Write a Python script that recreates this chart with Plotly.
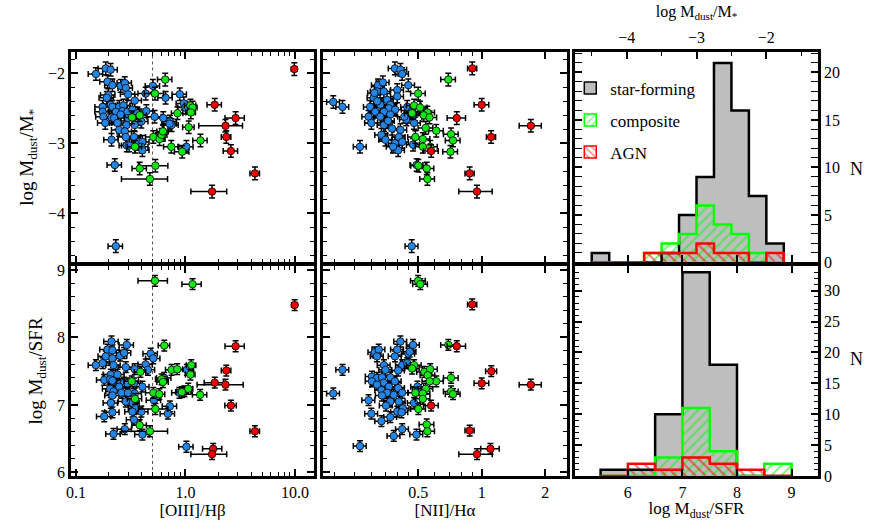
import plotly.graph_objects as go

# ---------------- data ----------------
# star-forming galaxies, [OIII]/Hb vs log Mdust/M*
sf_o3_a = [0.152, 0.187, 0.207, 0.194, 0.215, 0.256, 0.279, 0.285, 0.299, 0.344,
           0.433, 0.504, 0.658, 0.887, 0.197, 0.191, 0.175, 0.208, 0.215, 0.248,
           0.271, 0.231, 0.266, 0.295, 0.328, 0.175, 0.178, 0.211, 0.223, 0.256,
           0.299, 0.364, 0.439, 0.522, 0.627, 0.720, 0.746, 0.185, 0.239, 0.289,
           0.344, 0.395, 0.248, 0.279, 0.285, 0.339, 0.376, 0.404, 0.291, 0.306,
           0.395, 0.404, 0.211, 1.02, 0.966, 1.00, 0.226, 0.231, 0.716]
sf_mstar_a = [-2.01, -1.93, -1.95, -2.12, -2.17, -2.18, -2.14, -2.21, -2.30, -2.39,
              -2.29, -2.18, -2.35, -2.30, -2.31, -2.35, -2.48, -2.45, -2.48, -2.48,
              -2.46, -2.55, -2.54, -2.55, -2.52, -2.55, -2.62, -2.63, -2.64, -2.59,
              -2.64, -2.57, -2.54, -2.62, -2.64, -2.69, -2.74, -2.71, -2.71, -2.74,
              -2.74, -2.69, -2.81, -2.83, -2.91, -2.91, -2.98, -2.98, -3.03, -3.03,
              -3.05, -3.10, -2.95, -3.05, -2.43, -2.49, -3.31, -4.47, -2.72]
# composite
cp_o3_a = [0.653, 0.526, 0.325, 0.382, 0.845, 1.11, 1.16, 1.12, 1.07, 1.37,
           0.508, 0.58, 0.605, 0.622, 0.346, 0.742, 0.933, 0.382, 0.531, 0.473]
cp_mstar_a = [-2.09, -2.29, -2.63, -2.60, -2.57, -2.46, -2.49, -2.56, -2.77, -2.96,
              -2.91, -2.94, -2.88, -2.83, -3.05, -3.05, -3.12, -3.36, -3.32, -3.51]
cp_o3_err_a = [0.15, 0.2, 0.15, 0.15, 0.12, 0.12, 0.1, 0.1, 0.12, 0.15,
               0.15, 0.12, 0.12, 0.12, 0.15, 0.15, 0.15, 0.15, 0.3, 0.45]
# AGN
agn_o3_a = [9.87, 1.85, 2.87, 2.32, 2.36, 2.60, 4.31, 1.75]
agn_mstar_a = [-1.94, -2.45, -2.64, -2.75, -2.91, -3.11, -3.43, -3.69]
agn_o3_err_a = [0.06, 0.15, 0.2, 0.43, 0.1, 0.15, 0.1, 0.36]

# [NII]/Ha vs log Mdust/M*
sf_n2_b = [0.388, 0.412, 0.42, 0.449, 0.198, 0.219, 0.265, 0.323, 0.34, 0.319,
           0.344, 0.308, 0.356, 0.398, 0.398, 0.296, 0.331, 0.369, 0.363, 0.389,
           0.313, 0.344, 0.291, 0.331, 0.369, 0.30, 0.344, 0.376, 0.335, 0.412,
           0.405, 0.388, 0.42, 0.402, 0.444, 0.466, 0.483, 0.439, 0.478, 0.473,
           0.492, 0.466, 0.32, 0.36, 0.35, 0.38, 0.43, 0.31]
sf_mstar_b = [-1.93, -1.95, -2.01, -2.17, -2.41, -2.48, -3.05, -2.17, -2.13, -2.26,
              -2.26, -2.35, -2.38, -2.24, -2.33, -2.48, -2.45, -2.45, -2.50, -2.52,
              -2.55, -2.55, -2.62, -2.62, -2.59, -2.71, -2.74, -2.79, -2.88, -2.81,
              -2.91, -3.00, -2.98, -3.10, -2.48, -2.55, -2.59, -2.66, -2.71, -3.02,
              -3.31, -4.47, -2.40, -2.68, -2.95, -3.05, -2.62, -2.28]
cp_n2_b = [0.695, 0.5, 0.478, 0.51, 0.468, 0.553, 0.531, 0.566, 0.543, 0.609,
           0.716, 0.731, 0.485, 0.526, 0.526, 0.57, 0.711, 0.501, 0.549, 0.553]
cp_mstar_b = [-2.09, -2.29, -2.46, -2.49, -2.57, -2.56, -2.60, -2.63, -2.78, -2.82,
              -2.87, -2.96, -2.91, -2.94, -3.05, -3.05, -3.12, -3.32, -3.36, -3.51]
agn_n2_b = [0.902, 1.0, 0.762, 1.71, 1.108, 0.576, 0.877, 0.95]
agn_mstar_b = [-1.93, -2.45, -2.64, -2.75, -2.91, -3.11, -3.43, -3.69]
agn_n2_err_b = [0.05, 0.08, 0.1, 0.12, 0.05, 0.08, 0.05, 0.18]

# [OIII]/Hb vs log Mdust/SFR
sf_o3_c = [0.211, 0.291, 0.194, 0.215, 0.187, 0.253, 0.275, 0.215, 0.481, 0.508,
           0.152, 0.175, 0.220, 0.285, 0.344, 0.433, 0.454, 0.208, 0.239, 0.181,
           0.205, 0.215, 0.253, 0.275, 0.295, 0.339, 0.248, 0.205, 0.220, 0.260,
           0.299, 0.344, 0.404, 0.215, 0.312, 0.328, 0.285, 0.208, 0.515, 0.353,
           0.395, 0.328, 0.721, 0.690, 0.215, 0.181, 0.339, 0.220, 0.279, 0.404,
           1.02, 0.88, 0.978, 1.03, 0.64]
sf_sfr_c = [7.94, 7.89, 7.82, 7.81, 7.72, 7.73, 7.77, 7.69, 7.76, 7.69,
            7.59, 7.62, 7.59, 7.56, 7.53, 7.60, 7.52, 7.45, 7.45, 7.37,
            7.38, 7.36, 7.31, 7.33, 7.32, 7.32, 7.27, 7.24, 7.20, 7.18,
            7.18, 7.17, 7.27, 7.14, 7.07, 7.03, 7.05, 7.03, 7.07, 6.95,
            6.90, 6.90, 6.98, 6.87, 6.89, 6.83, 6.78, 6.57, 6.64, 6.56,
            6.38, 7.18, 7.20, 7.52, 7.40]
cp_o3_c = [0.526, 1.16, 0.64, 0.387, 0.323, 0.605, 0.622, 0.746, 0.84, 1.13,
           1.11, 1.06, 0.925, 1.36, 0.508, 0.577, 0.346, 0.531, 0.382, 0.473]
cp_sfr_c = [8.84, 8.79, 7.88, 7.49, 7.35, 7.38, 7.34, 7.52, 7.53, 7.59,
            7.45, 7.24, 7.19, 7.15, 7.18, 7.16, 7.09, 6.94, 6.70, 6.61]
cp_o3_err_c = [0.3, 0.2, 0.12, 0.12, 0.15, 0.12, 0.12, 0.12, 0.12, 0.1,
               0.1, 0.1, 0.12, 0.15, 0.15, 0.12, 0.15, 0.3, 0.15, 0.45]
agn_o3_c = [9.93, 2.87, 2.36, 1.85, 2.32, 2.60, 4.31, 1.79, 1.75]
agn_sfr_c = [8.48, 7.87, 7.51, 7.33, 7.30, 6.99, 6.61, 6.35, 6.27]
agn_o3_err_c = [0.06, 0.2, 0.1, 0.2, 0.45, 0.12, 0.1, 0.2, 0.36]

# [NII]/Ha vs log Mdust/SFR
sf_n2_d = [0.412, 0.473, 0.311, 0.325, 0.319, 0.388, 0.398, 0.449, 0.456, 0.42,
           0.444, 0.402, 0.344, 0.35, 0.219, 0.302, 0.319, 0.337, 0.344, 0.369,
           0.388, 0.302, 0.319, 0.363, 0.402, 0.335, 0.356, 0.383, 0.42, 0.496,
           0.505, 0.198, 0.337, 0.369, 0.405, 0.291, 0.478, 0.352, 0.423, 0.30,
           0.369, 0.398, 0.417, 0.335, 0.42, 0.383, 0.491, 0.265]
sf_sfr_d = [7.94, 7.89, 7.78, 7.82, 7.72, 7.72, 7.82, 7.76, 7.79, 7.59,
            7.62, 7.51, 7.59, 7.52, 7.52, 7.42, 7.40, 7.41, 7.33, 7.41,
            7.35, 7.35, 7.30, 7.27, 7.25, 7.22, 7.18, 7.15, 7.18, 7.27,
            7.22, 7.17, 7.14, 7.05, 7.05, 7.07, 7.03, 6.99, 6.95, 6.87,
            6.82, 6.90, 6.89, 6.76, 6.64, 6.54, 6.56, 6.39]
cp_n2_d = [0.5, 0.512, 0.695, 0.478, 0.468, 0.535, 0.57, 0.555, 0.609, 0.567,
           0.716, 0.543, 0.485, 0.526, 0.526, 0.716, 0.731, 0.501, 0.549, 0.553]
cp_sfr_d = [8.84, 8.79, 7.89, 7.59, 7.54, 7.49, 7.53, 7.44, 7.35, 7.35,
            7.40, 7.24, 7.18, 7.17, 7.09, 7.20, 7.16, 6.94, 6.71, 6.61]
agn_n2_d = [0.902, 0.762, 1.11, 1.0, 1.71, 0.576, 0.877, 1.10, 0.95]
agn_sfr_d = [8.49, 7.87, 7.50, 7.32, 7.30, 6.99, 6.62, 6.35, 6.27]
agn_n2_err_d = [0.05, 0.1, 0.06, 0.08, 0.12, 0.08, 0.05, 0.1, 0.18]

SF_O3_ERR = 0.15      # typical fractional error, star-forming
SF_N2_ERR = 0.07
CP_N2_ERR = 0.08
MSTAR_ERR = 0.09      # dex
SFR_ERR = 0.08        # dex

# histograms (counts per bin)
mstar_edge0, mstar_bw = -4.5, 0.25
hist_mstar_sf = [1, 0, 0, 0, 1, 5, 9, 21, 16, 7, 2]
hist_mstar_cp = [0, 0, 0, 1, 2, 3, 6, 4, 3, 1, 0]
hist_mstar_agn = [0, 0, 0, 1, 1, 1, 2, 1, 1, 0, 1]
sfr_edge0, sfr_bw = 5.5, 0.5
hist_sfr_sf = [1, 1, 10, 33, 18, 0, 0]
hist_sfr_cp = [0, 0, 3, 11, 4, 0, 2]
hist_sfr_agn = [0, 2, 1, 3, 2, 1, 0]

# ---------------- styling ----------------
FONT = 'Liberation Serif'
BLUE, GREEN, RED, GRAY = '#2386E6', '#14E614', '#F00000', '#BEBEBE'
O3_RANGE = [-1.046, 1.174]
N2_RANGE = [-0.752, 0.404]
MSTAR_RANGE = [-4.703, -1.696]
SFR_RANGE = [5.947, 9.059]

fig = go.Figure()


def add_pts(xs, ys, xerr, yerr, color, xa, ya):
    if not isinstance(xerr, list):
        xerr = [xerr] * len(xs)
    fig.add_trace(go.Scatter(
        x=xs, y=ys, mode='markers', xaxis=xa, yaxis=ya, showlegend=False,
        marker=dict(color=color, size=7.5, line=dict(color='black', width=0.8)),
        error_x=dict(type='data', array=[e * x for e, x in zip(xerr, xs)],
                     color='black', thickness=1.5, width=3),
        error_y=dict(type='constant', value=yerr, color='black', thickness=1.5, width=3)))


# dotted line at [OIII]/Hb = 0.5
for ya, rng in (('y', MSTAR_RANGE), ('y4', SFR_RANGE)):
    xa = 'x' if ya == 'y' else 'x4'
    fig.add_trace(go.Scatter(x=[0.5, 0.5], y=rng, mode='lines', xaxis=xa, yaxis=ya,
                             line=dict(color='#555555', width=1, dash='dot'),
                             showlegend=False, hoverinfo='skip'))

add_pts(sf_o3_a, sf_mstar_a, SF_O3_ERR, MSTAR_ERR, BLUE, 'x', 'y')
add_pts(cp_o3_a, cp_mstar_a, cp_o3_err_a, MSTAR_ERR, GREEN, 'x', 'y')
add_pts(agn_o3_a, agn_mstar_a, agn_o3_err_a, MSTAR_ERR, RED, 'x', 'y')

add_pts(sf_n2_b, sf_mstar_b, SF_N2_ERR, MSTAR_ERR, BLUE, 'x2', 'y2')
add_pts(cp_n2_b, cp_mstar_b, CP_N2_ERR, MSTAR_ERR, GREEN, 'x2', 'y2')
add_pts(agn_n2_b, agn_mstar_b, agn_n2_err_b, MSTAR_ERR, RED, 'x2', 'y2')

add_pts(sf_o3_c, sf_sfr_c, SF_O3_ERR, SFR_ERR, BLUE, 'x4', 'y4')
add_pts(cp_o3_c, cp_sfr_c, cp_o3_err_c, SFR_ERR, GREEN, 'x4', 'y4')
add_pts(agn_o3_c, agn_sfr_c, agn_o3_err_c, SFR_ERR, RED, 'x4', 'y4')

add_pts(sf_n2_d, sf_sfr_d, SF_N2_ERR, SFR_ERR, BLUE, 'x5', 'y5')
add_pts(cp_n2_d, cp_sfr_d, CP_N2_ERR, SFR_ERR, GREEN, 'x5', 'y5')
add_pts(agn_n2_d, agn_sfr_d, agn_n2_err_d, SFR_ERR, RED, 'x5', 'y5')


def add_hist(counts, edge0, bw, xa, ya, fill=None, hatch=None, color='black'):
    edges = [edge0 + i * bw for i in range(len(counts) + 1)]
    centers = [e + bw / 2 for e in edges[:-1]]
    if fill:
        marker = dict(color=fill, line=dict(width=0))
    else:
        marker = dict(color='rgba(0,0,0,0)', line=dict(width=0),
                      pattern=dict(shape=hatch, fgcolor=color, bgcolor='rgba(0,0,0,0)',
                                   fillmode='overlay', size=7, solidity=0.3))
    fig.add_trace(go.Bar(x=centers, y=counts, width=bw, xaxis=xa, yaxis=ya,
                         marker=marker, showlegend=False, hoverinfo='skip'))
    sx = [edges[0]] + edges
    sy = [0] + counts + [counts[-1]]
    sx.append(edges[-1])
    sy.append(0)
    fig.add_trace(go.Scatter(x=sx, y=sy, mode='lines', line_shape='hv', xaxis=xa, yaxis=ya,
                             line=dict(color=color, width=2.5), showlegend=False,
                             hoverinfo='skip'))


add_hist(hist_mstar_sf, mstar_edge0, mstar_bw, 'x3', 'y3', fill=GRAY)
add_hist(hist_mstar_cp, mstar_edge0, mstar_bw, 'x3', 'y3', hatch='/', color='#00FF00')
add_hist(hist_mstar_agn, mstar_edge0, mstar_bw, 'x3', 'y3', hatch='\\', color='#FF0000')
add_hist(hist_sfr_sf, sfr_edge0, sfr_bw, 'x6', 'y6', fill=GRAY)
add_hist(hist_sfr_cp, sfr_edge0, sfr_bw, 'x6', 'y6', hatch='/', color='#00FF00')
add_hist(hist_sfr_agn, sfr_edge0, sfr_bw, 'x6', 'y6', hatch='\\', color='#FF0000')

# axis carrying the Mdust/SFR ticks along the bottom of the upper histogram
fig.add_trace(go.Scatter(x=[None], y=[None], xaxis='x7', yaxis='y3', showlegend=False))

# legend entries
legend_items = [('star-forming', dict(color=GRAY, line=dict(color='black', width=1.5))),
                ('composite', dict(color='white', line=dict(color='#00FF00', width=1.5),
                                   pattern=dict(shape='/', fgcolor='#00FF00', size=6, solidity=0.3))),
                ('AGN', dict(color='white', line=dict(color='#FF0000', width=1.5),
                             pattern=dict(shape='\\', fgcolor='#FF0000', size=6, solidity=0.3)))]
for i, (name, mk) in enumerate(legend_items):
    fig.add_trace(go.Bar(x=[None], y=[None], name=name, marker=mk, xaxis='x3', yaxis='y3',
                         legendgroup=str(i), showlegend=True))

# ---------------- axes ----------------
tf = dict(family=FONT, size=16, color='black')
base = dict(showline=True, linecolor='black', linewidth=2.5, mirror='allticks',
            ticks='inside', ticklen=7, tickwidth=1.5, tickcolor='black',
            showgrid=False, zeroline=False, tickfont=tf)


def mnr(**kw):
    d = dict(ticks='inside', ticklen=4, tickwidth=1.2, tickcolor='black', showgrid=False)
    d.update(kw)
    return d


XL = [0.0814, 0.3601]
XM = [0.3704, 0.6502]
XR = [0.6594, 0.9381]
YT = [0.4962, 0.9002]
YB = [0.0864, 0.4894]

o3_ax = dict(base, type='log', range=O3_RANGE, tickvals=[0.1, 1, 10],
             ticktext=['0.1', '1.0', '10.0'],
             minor=mnr(tickvals=[0.2, 0.3, 0.4, 0.5, 0.6, 0.7, 0.8, 0.9,
                                 2, 3, 4, 5, 6, 7, 8, 9]))
n2_ax = dict(base, type='log', range=N2_RANGE, tickvals=[0.5, 1, 2],
             ticktext=['0.5', '1', '2'],
             minor=mnr(tickvals=[0.2, 0.25, 0.3, 0.35, 0.4, 0.45, 0.6, 0.7, 0.8, 0.9]))
mstar_ax = dict(base, range=MSTAR_RANGE, tickvals=[-4, -3, -2], minor=mnr(dtick=0.2))
sfr_ax = dict(base, range=SFR_RANGE, tickvals=[6, 7, 8, 9], minor=mnr(dtick=0.2))

ytitle_font = dict(family=FONT, size=19, color='black')
xtitle_font = dict(family=FONT, size=17, color='black')

fig.update_layout(
    xaxis=dict(o3_ax, domain=XL, anchor='y', showticklabels=False),
    yaxis=dict(mstar_ax, domain=YT, anchor='x',
               title=dict(text='log M<sub>dust</sub>/M<sub>*</sub>', font=ytitle_font, standoff=10)),
    xaxis2=dict(n2_ax, domain=XM, anchor='y2', showticklabels=False),
    yaxis2=dict(mstar_ax, domain=YT, anchor='x2', showticklabels=False),
    xaxis3=dict(base, domain=XR, anchor='y3', side='top', mirror=True,
                range=[-4.74, -1.26], tickvals=[-4, -3, -2], minor=mnr(dtick=0.5, tick0=0),
                title=dict(text='log M<sub>dust</sub>/M<sub>*</sub>',
                           font=dict(family=FONT, size=16, color='black'), standoff=8)),
    xaxis7=dict(overlaying='x3', anchor='y3', side='bottom', range=[5.031, 9.485],
                showline=False, showgrid=False, zeroline=False, ticks='inside',
                ticklen=7, tickwidth=1.5, tickcolor='black', tickvals=[6, 7, 8, 9],
                showticklabels=False),
    yaxis3=dict(base, domain=YT, anchor='x3', side='right', range=[0, 22.15],
                tickvals=[0, 5, 10, 15, 20], minor=mnr(dtick=1)),
    xaxis4=dict(o3_ax, domain=XL, anchor='y4',
                title=dict(text='[OIII]/Hβ', font=xtitle_font, standoff=5)),
    yaxis4=dict(sfr_ax, domain=YB, anchor='x4',
                title=dict(text='log M<sub>dust</sub>/SFR', font=ytitle_font, standoff=10)),
    xaxis5=dict(n2_ax, domain=XM, anchor='y5',
                title=dict(text='[NII]/Hα', font=xtitle_font, standoff=5)),
    yaxis5=dict(sfr_ax, domain=YB, anchor='x5', showticklabels=False),
    xaxis6=dict(base, domain=XR, anchor='y6', range=[5.031, 9.485], tickvals=[6, 7, 8, 9],
                title=dict(text='log M<sub>dust</sub>/SFR', font=xtitle_font, standoff=5)),
    yaxis6=dict(base, domain=YB, anchor='x6', side='right', range=[0, 34],
                tickvals=[0, 5, 10, 15, 20, 25, 30], minor=mnr(dtick=1)),
    barmode='overlay', bargap=0,
    width=872, height=521,
    margin=dict(l=0, r=0, t=0, b=0, autoexpand=False),
    paper_bgcolor='white', plot_bgcolor='rgba(0,0,0,0)',
    font=dict(family=FONT, size=16, color='black'),
    legend=dict(x=0.654, y=0.865, xanchor='left', yanchor='top', bgcolor='rgba(0,0,0,0)',
                font=dict(family=FONT, size=17), traceorder='grouped', tracegroupgap=7,
                itemwidth=30),
    showlegend=True,
)

# upright "N" labels beside the histogram count axes
for yd in (YT, YB):
    fig.add_annotation(text='N', xref='paper', yref='paper', x=0.972, xanchor='left',
                       y=sum(yd) / 2, showarrow=False,
                       font=dict(family=FONT, size=18, color='black'))

# the page's default body margin would push the fixed-size figure off the window
fig.write_html("out.html", config={'displayModeBar': False},
               post_script="document.body.style.margin='0';")
